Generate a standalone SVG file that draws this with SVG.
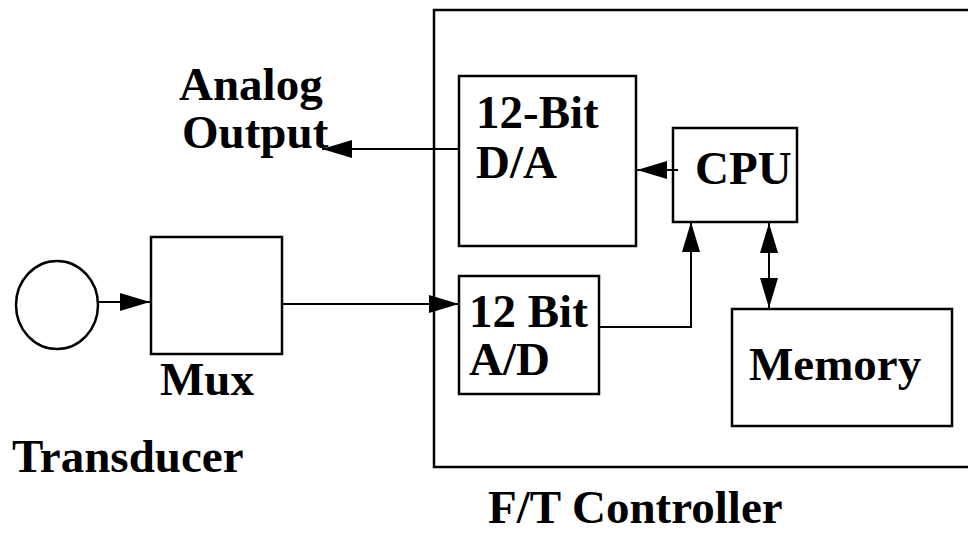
<svg xmlns="http://www.w3.org/2000/svg" width="968" height="536" viewBox="0 0 968 536">
<style>
.box{fill:none;stroke:#000;stroke-width:2.5}
.ln{fill:none;stroke:#000;stroke-width:2}
.t{font-family:'Liberation Serif','Times New Roman','DejaVu Serif',serif;font-weight:700;font-size:47px;fill:#000}
</style>
<defs>
<marker id="ah" viewBox="0 0 30 18" refX="30" refY="9" markerWidth="30" markerHeight="18" markerUnits="userSpaceOnUse" orient="auto-start-reverse">
<path d="M0,0 L30,9 L0,18 Z" fill="#000"/>
</marker>
</defs>
<rect width="968" height="536" fill="#fff"/>
<g id="controller">
<path class="box" d="M972,10 H434 V467 H972"/>
<text class="t" x="488" y="523">F/T Controller</text>
</g>
<g id="transducer">
<ellipse class="box" cx="57" cy="305" rx="41" ry="44"/>
<text class="t" x="12" y="472">Transducer</text>
</g>
<g id="mux">
<rect class="box" x="151" y="237" width="131" height="117"/>
<text class="t" x="160" y="395">Mux</text>
</g>
<g id="analog-output">
<text class="t" x="179" y="100">Analog</text>
<text class="t" x="182" y="148">Output</text>
</g>
<g id="da">
<rect class="box" x="459" y="76" width="177" height="170"/>
<text class="t" x="476" y="128">12-Bit</text>
<text class="t" x="476" y="178">D/A</text>
</g>
<g id="ad">
<rect class="box" x="459" y="276" width="140" height="118"/>
<text class="t" x="469" y="327">12 Bit</text>
<text class="t" x="469" y="375">A/D</text>
</g>
<g id="cpu">
<rect class="box" x="673" y="128" width="124" height="94"/>
<text class="t" x="695" y="184">CPU</text>
</g>
<g id="memory">
<rect class="box" x="732" y="309" width="220" height="117"/>
<text class="t" x="749" y="380">Memory</text>
</g>
<g id="connectors">
<path class="ln" d="M98,302 H150" marker-end="url(#ah)"/>
<path class="ln" d="M282,304 H459" marker-end="url(#ah)"/>
<path class="ln" d="M459,149 H322" marker-end="url(#ah)"/>
<path class="ln" d="M678,170 H637" marker-end="url(#ah)"/>
<path class="ln" d="M600,327 H691 V222" marker-end="url(#ah)"/>
<path class="ln" d="M769,223 V308" marker-start="url(#ah)" marker-end="url(#ah)"/>
</g>
</svg>
